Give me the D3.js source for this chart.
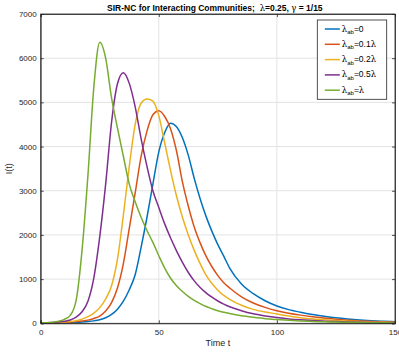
<!DOCTYPE html>
<html>
<head>
<meta charset="utf-8">
<script src="https://cdn.jsdelivr.net/npm/d3@7"></script>
<style>
  body { margin: 0; background: #fff; }
  svg { display: block; font-family: "Liberation Sans", Arial, sans-serif; }
  .tick text { fill: #262626; font-size: 8px; }
  .grk { font-family: "DejaVu Serif", "Liberation Serif", serif; }
</style>
</head>
<body>
<svg width="399" height="353"></svg>
<script>
// time grid (t)
let times = [0, 2.5, 5, 7.5, 10, 12.5, 15, 17.5, 20, 22.5, 25, 27.5, 30, 32.5, 35, 37.5, 40,
  42.5, 45, 47.5, 50, 52.5, 55, 57.5, 60, 62.5, 65, 67.5, 70, 72.5, 75, 77.5, 80,
  85, 90, 95, 100, 105, 110, 115, 120, 125, 130, 135, 140, 145, 150]

// I(t) for each lambda_ab
let iAb0 = [10, 11, 12, 13, 15, 18, 23, 30, 40, 55, 80, 125, 200, 320, 500, 760, 1100,
  1720, 2400, 3150, 3880, 4320, 4530, 4450, 4200, 3800, 3280, 2820, 2420, 2080, 1780, 1520, 1250,
  890, 670, 510, 392, 310, 250, 200, 160, 125, 98, 76, 58, 45, 35]
let iAb01 = [10, 11, 13, 16, 21, 28, 38, 52, 72, 110, 165, 280, 470, 800, 1350, 2150, 2950,
  3780, 4350, 4720, 4810, 4680, 4400, 3900, 3200, 2650, 2180, 1820, 1520, 1280, 1080, 920, 800,
  600, 460, 360, 285, 228, 185, 150, 120, 92, 70, 54, 42, 32, 25]
let iAb02 = [10, 12, 15, 20, 28, 40, 60, 95, 150, 230, 355, 550, 850, 1450, 2450, 3550, 4500,
  4980, 5075, 5030, 4700, 4080, 3450, 2880, 2400, 2000, 1650, 1350, 1090, 900, 750, 630, 540,
  410, 315, 255, 210, 165, 128, 100, 80, 62, 48, 37, 29, 22, 17]
let iAb05 = [10, 13, 18, 28, 45, 75, 140, 260, 500, 1030, 1960, 3150, 4550, 5420, 5670, 5430, 4900,
  4180, 3550, 3000, 2620, 2250, 1930, 1640, 1380, 1150, 960, 810, 690, 590, 505, 435, 375,
  285, 215, 165, 130, 100, 78, 61, 48, 38, 30, 23, 18, 14, 11]
let iAb1 = [10, 15, 25, 45, 90, 180, 520, 1650, 3350, 5350, 6360, 6000, 5100, 4420, 3780, 3150, 2750,
  2400, 2100, 1830, 1530, 1250, 1020, 850, 720, 610, 520, 445, 380, 330, 285, 250, 220,
  170, 135, 105, 85, 68, 54, 43, 34, 27, 21, 17, 13, 11, 9]

let seriesNames = ['0', '0.1', '0.2', '0.5', '']
let colors = ['#0072BD', '#D95319', '#EDB120', '#7E2F8E', '#77AC30']
let xTicks = [0, 50, 100, 150]
let yTicks = [0, 1000, 2000, 3000, 4000, 5000, 6000, 7000]

let series = [iAb0, iAb01, iAb02, iAb05, iAb1]

let pl = 40.7, pr = 395, pt = 14, pb = 323.3

let x = d3.scaleLinear().domain([0, 150]).range([pl, pr])
let y = d3.scaleLinear().domain([0, 7000]).range([pb, pt])

let svg = d3.select('svg')

// grid
let grid = svg.append('g').attr('stroke', '#e3e3e3').attr('stroke-width', 1)
grid.selectAll('.gx')
  .data(xTicks.slice(1, -1))
  .enter()
  .append('line')
  .attr('x1', d => x(d)).attr('x2', d => x(d))
  .attr('y1', pt).attr('y2', pb)
grid.selectAll('.gy')
  .data(yTicks.slice(1, -1))
  .enter()
  .append('line')
  .attr('x1', pl).attr('x2', pr)
  .attr('y1', d => y(d)).attr('y2', d => y(d))

// lines
let line = d3.line()
  .x((d, i) => x(times[i]))
  .y(d => y(d))
  .curve(d3.curveMonotoneX)

svg.append('g')
  .selectAll('path')
  .data(series)
  .enter()
  .append('path')
  .attr('d', d => line(d))
  .attr('fill', 'none')
  .attr('stroke', (d, i) => colors[i])
  .attr('stroke-width', 1.5)

// box
svg.append('rect')
  .attr('x', pl).attr('y', pt)
  .attr('width', pr - pl).attr('height', pb - pt)
  .attr('fill', 'none')
  .attr('stroke', '#262626')
  .attr('stroke-width', 0.8)

let fmt = d3.format('d')
let xAxis = d3.axisBottom(x).tickValues(xTicks).tickFormat(fmt).tickSize(-3).tickPadding(6)
let yAxis = d3.axisLeft(y).tickValues(yTicks).tickFormat(fmt).tickSize(-3).tickPadding(4)

svg.append('g')
  .attr('transform', 'translate(0,' + pb + ')')
  .call(xAxis)
svg.append('g')
  .attr('transform', 'translate(' + pl + ',0)')
  .call(yAxis)

// ticks on the top and right too
svg.append('g')
  .attr('transform', 'translate(0,' + pt + ')')
  .call(d3.axisTop(x).tickValues(xTicks).tickSize(-3).tickFormat(''))
svg.append('g')
  .attr('transform', 'translate(' + pr + ',0)')
  .call(d3.axisRight(y).tickValues(yTicks).tickSize(-3).tickFormat(''))

svg.selectAll('.domain').attr('stroke', '#262626').attr('stroke-width', 0.8)
svg.selectAll('.tick line').attr('stroke', '#262626').attr('stroke-width', 0.8)

// labels
svg.append('text')
  .attr('x', (pl + pr) / 2).attr('y', 346)
  .attr('text-anchor', 'middle')
  .attr('font-size', 9).attr('fill', '#262626')
  .text('Time t')

svg.append('text')
  .attr('transform', 'translate(12,' + ((pt + pb) / 2) + ') rotate(-90)')
  .attr('text-anchor', 'middle')
  .attr('font-size', 9).attr('fill', '#262626')
  .text('I(t)')

let title = svg.append('text')
  .attr('x', (pl + pr) / 2 - 3).attr('y', 10.5)
  .attr('text-anchor', 'middle')
  .attr('font-size', 8.5).attr('font-weight', 'bold').attr('fill', '#000')
title.append('tspan').text('SIR-NC for Interacting Communities;\u00a0\u00a0')
title.append('tspan').attr('class', 'grk').attr('font-weight', 'normal').text('λ')
title.append('tspan').text('=0.25, ')
title.append('tspan').attr('class', 'grk').attr('font-weight', 'normal').text('γ')
title.append('tspan').text(' = 1/15')

// legend
let lg = svg.append('g').attr('transform', 'translate(317.3,20)')
lg.append('rect')
  .attr('width', 69.4).attr('height', 79.3)
  .attr('fill', '#fff').attr('stroke', '#262626').attr('stroke-width', 0.8)

let items = lg.selectAll('.item')
  .data(seriesNames)
  .enter()
  .append('g')
  .attr('transform', (d, i) => 'translate(0,' + (9 + i * 15.3) + ')')

items.append('line')
  .attr('x1', 7.5).attr('x2', 22.5)
  .attr('stroke', (d, i) => colors[i])
  .attr('stroke-width', 1.5)

let lt = items.append('text')
  .attr('x', 24.5).attr('y', 2.5)
  .attr('font-size', 8.5).attr('fill', '#000')
lt.append('tspan').attr('class', 'grk').text('λ')
lt.append('tspan').attr('font-size', 6).attr('dy', 2.5).text('ab')
lt.append('tspan').attr('dy', -2.5).text(d => '=' + d)
lt.append('tspan').attr('class', 'grk').text(d => d === '0' ? '' : 'λ')
</script>
</body>
</html>
